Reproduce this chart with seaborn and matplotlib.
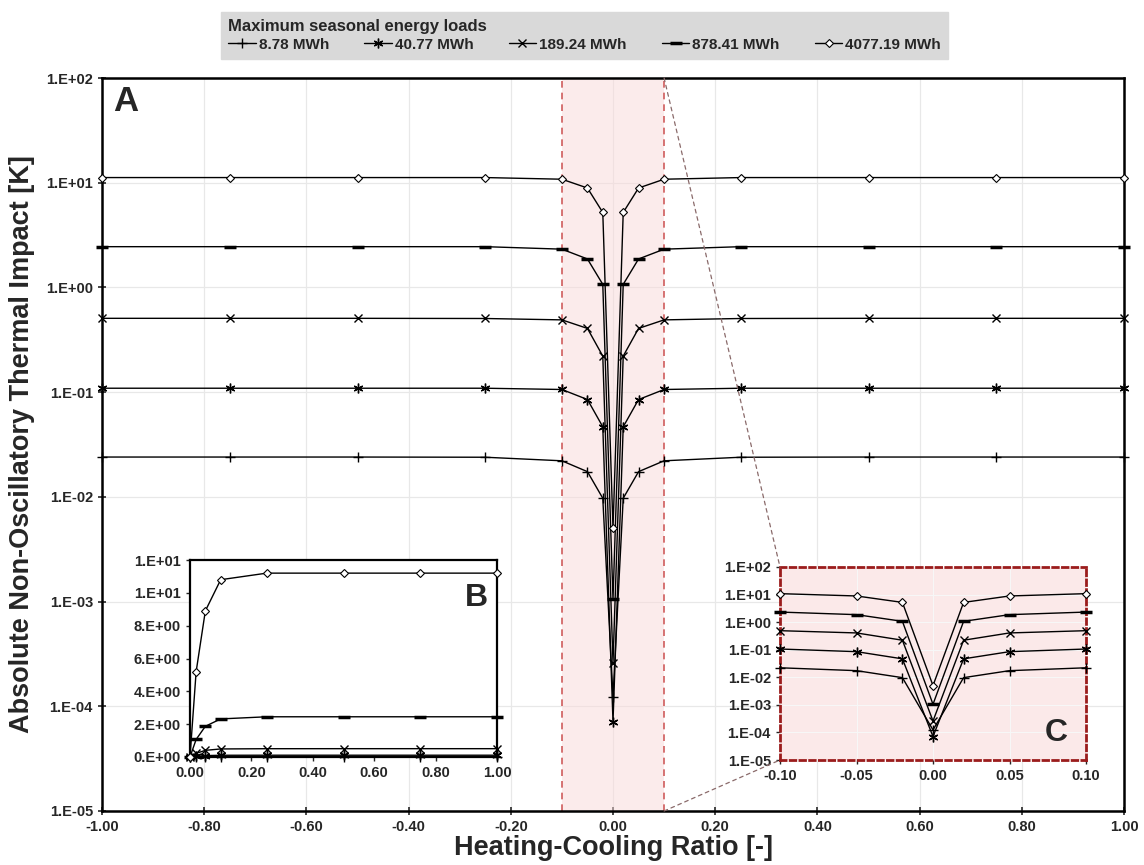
import numpy as np
import pandas as pd
import matplotlib
matplotlib.use("Agg")
import matplotlib.pyplot as plt
from matplotlib.ticker import FuncFormatter, MultipleLocator, NullLocator, FixedLocator
from matplotlib.patches import ConnectionPatch
import seaborn as sns

# ---------------- data ----------------
ratio = [-1.00, -0.75, -0.50, -0.25, -0.10, -0.05, -0.02, 0.00,
         0.02, 0.05, 0.10, 0.25, 0.50, 0.75, 1.00]

imp_8_78 = [0.0240, 0.0240, 0.0240, 0.0239, 0.0221, 0.0174, 0.0097, 1.23e-4,
            0.0097, 0.0174, 0.0221, 0.0239, 0.0240, 0.0240, 0.0240]
imp_40_77 = [0.109, 0.109, 0.109, 0.109, 0.106, 0.085, 0.0467, 7.1e-5,
             0.0467, 0.085, 0.106, 0.109, 0.109, 0.109, 0.109]
imp_189_24 = [0.507, 0.507, 0.507, 0.505, 0.490, 0.406, 0.221, 2.6e-4,
              0.221, 0.406, 0.490, 0.505, 0.507, 0.507, 0.507]
imp_878_41 = [2.45, 2.45, 2.45, 2.45, 2.32, 1.87, 1.07, 1.05e-3,
              1.07, 1.87, 2.32, 2.45, 2.45, 2.45, 2.45]
imp_4077_19 = [11.2, 11.2, 11.2, 11.2, 10.8, 8.9, 5.2, 5.0e-3,
               5.2, 8.9, 10.8, 11.2, 11.2, 11.2, 11.2]

series_labels = ["8.78 MWh", "40.77 MWh", "189.24 MWh", "878.41 MWh", "4077.19 MWh"]
series_values = [imp_8_78, imp_40_77, imp_189_24, imp_878_41, imp_4077_19]

frames = []
for lab, vals in zip(series_labels, series_values):
    frames.append(pd.DataFrame({"ratio": ratio, "impact": vals, "series": lab}))
df = pd.concat(frames, ignore_index=True)

marker_style = {
    "8.78 MWh": dict(marker="+", markersize=7, markeredgewidth=1.0, markerfacecolor="black"),
    "40.77 MWh": dict(marker=(6, 2, 0), markersize=7, markeredgewidth=1.0, markerfacecolor="black"),
    "189.24 MWh": dict(marker="x", markersize=6, markeredgewidth=1.0, markerfacecolor="black"),
    "878.41 MWh": dict(marker="_", markersize=8, markeredgewidth=2.5, markerfacecolor="black"),
    "4077.19 MWh": dict(marker="D", markersize=4.5, markeredgewidth=0.8, markerfacecolor="white"),
}

# ---------------- style ----------------
sns.set_style("ticks")
plt.rcParams["font.family"] = ["Liberation Sans", "DejaVu Sans"]
plt.rcParams["font.weight"] = "bold"
plt.rcParams["axes.labelweight"] = "bold"

W, H = 1144, 865
fig = plt.figure(figsize=(W / 100, H / 100), dpi=100)

sci_fmt = FuncFormatter(lambda v, p: "%#.0E" % v)
dec_fmt = FuncFormatter(lambda v, p: "%.2f" % (round(v, 2) + 0.0))


def draw_series(ax, data):
    for lab in series_labels:
        sub = data[data["series"] == lab]
        sns.lineplot(data=sub, x="ratio", y="impact", ax=ax, color="black",
                     linewidth=1.0, label=lab, sort=True, estimator=None,
                     markeredgecolor="black", clip_on=False, zorder=5,
                     **marker_style[lab])
    if ax.get_legend() is not None:
        ax.get_legend().remove()


# ---------------- main axes (A) ----------------
ax = fig.add_axes([102 / W, 1 - 811 / H, 1022 / W, 733 / H])
ax.set_yscale("log")
ax.axvspan(-0.1, 0.1, facecolor="#f9d9d9", alpha=0.5, edgecolor="none", zorder=1)
for xv in (-0.1, 0.1):
    ax.axvline(xv, color="#cf5c5c", lw=1.2, ls=(0, (4, 3)), zorder=2)
draw_series(ax, df)
ax.set_xlim(-1.0, 1.0)
ax.set_ylim(1e-5, 1e2)
ax.xaxis.set_major_locator(MultipleLocator(0.2))
ax.xaxis.set_major_formatter(dec_fmt)
ax.yaxis.set_major_locator(FixedLocator([10.0 ** k for k in range(-5, 3)]))
ax.yaxis.set_minor_locator(NullLocator())
ax.yaxis.set_major_formatter(sci_fmt)
ax.grid(True, which="major", color="#e8e8e8", lw=0.9)
ax.set_axisbelow(True)
ax.tick_params(direction="inout", length=6, width=1.2, labelsize=10.5)
for sp in ax.spines.values():
    sp.set_linewidth(1.8)
    sp.set_color("black")
ax.set_xlabel("Heating-Cooling Ratio [-]", fontsize=19.5, labelpad=1)
ax.set_ylabel("Absolute Non-Oscillatory Thermal Impact [K]", fontsize=19.5)
ax.yaxis.set_label_coords(-0.066, 0.5)
ax.text(0.011, 0.99, "A", transform=ax.transAxes, fontsize=25, fontweight="bold",
        va="top", ha="left")

handles, labels = ax.get_legend_handles_labels()

# ---------------- inset B ----------------
axB = fig.add_axes([190 / W, 1 - 757 / H, 307 / W, 197 / H])
axB.set_facecolor("white")
draw_series(axB, df[df["ratio"] >= 0])
axB.set_xlim(0.0, 1.0)
axB.set_ylim(0.0, 12.0)
axB.xaxis.set_major_locator(MultipleLocator(0.2))
axB.xaxis.set_major_formatter(dec_fmt)
axB.yaxis.set_major_locator(MultipleLocator(2))
axB.yaxis.set_major_formatter(sci_fmt)
axB.set_xlabel("")
axB.set_ylabel("")
axB.tick_params(direction="out", length=3, width=1, labelsize=10.5)
for sp in axB.spines.values():
    sp.set_linewidth(1.6)
    sp.set_color("black")
axB.text(0.97, 0.885, "B", transform=axB.transAxes, fontsize=23, fontweight="bold",
         va="top", ha="right")

# ---------------- inset C ----------------
axC = fig.add_axes([780 / W, 1 - 760 / H, 306 / W, 193 / H])
axC.set_facecolor("#fbe9e9")
axC.set_yscale("log")
draw_series(axC, df[df["ratio"].abs() <= 0.1])
axC.set_xlim(-0.1, 0.1)
axC.set_ylim(1e-5, 1e2)
axC.xaxis.set_major_locator(MultipleLocator(0.05))
axC.xaxis.set_major_formatter(dec_fmt)
axC.yaxis.set_major_locator(FixedLocator([10.0 ** k for k in range(-5, 3)]))
axC.yaxis.set_minor_locator(NullLocator())
axC.yaxis.set_major_formatter(sci_fmt)
axC.grid(True, which="major", color="#f7f7f7", lw=0.8)
axC.set_axisbelow(True)
axC.set_xlabel("")
axC.set_ylabel("")
axC.tick_params(direction="out", length=3, width=1, labelsize=10.5)
for sp in axC.spines.values():
    sp.set_linewidth(2.0)
    sp.set_color("#9b1c1c")
    sp.set_linestyle((0, (2, 1.5)))
axC.text(0.94, 0.06, "C", transform=axC.transAxes, fontsize=23, fontweight="bold",
         va="bottom", ha="right")

# connector lines from the shaded band to inset C
for yA, yB in ((1e2, 1.0), (1e-5, 0.0)):
    con = ConnectionPatch(xyA=(0.1, yA), coordsA=ax.transData,
                          xyB=(0.0, yB), coordsB=axC.transAxes,
                          color="#8a6a6a", lw=0.9, ls=(0, (3, 3)), zorder=3)
    fig.add_artist(con)

# ---------------- legend ----------------
leg = fig.legend(handles, labels, loc="upper center", bbox_to_anchor=(0.511, 0.995),
                 ncol=5, title="Maximum seasonal energy loads", alignment="left",
                 title_fontproperties={"weight": "bold", "size": 12},
                 prop={"weight": "bold", "size": 11}, frameon=True,
                 facecolor="#d9d9d9", edgecolor="#d9d9d9", fancybox=False,
                 framealpha=1.0, handlelength=1.8, handletextpad=0.2,
                 columnspacing=2.3, borderpad=0.45, labelspacing=0.25)

fig.savefig("out.png", dpi=100)
